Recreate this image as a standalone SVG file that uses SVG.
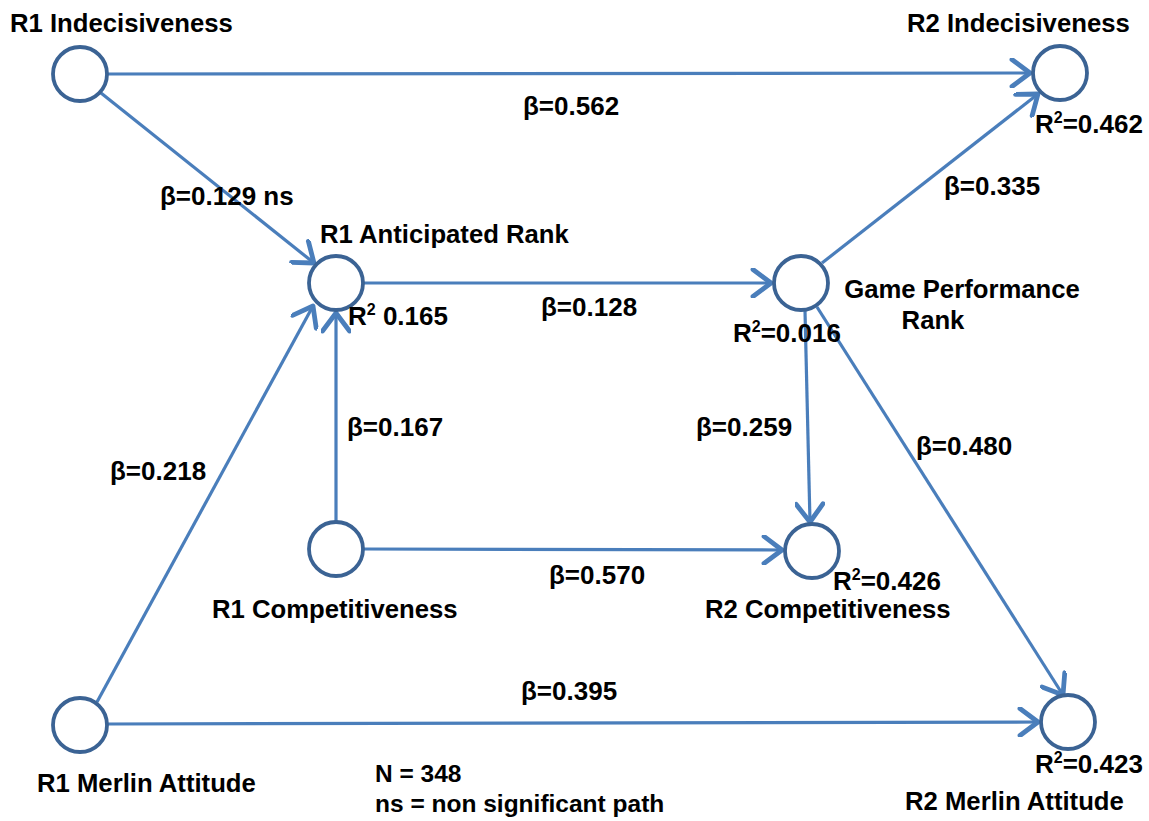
<svg xmlns="http://www.w3.org/2000/svg" width="1149" height="821" viewBox="0 0 1149 821">
<style>
.n{fill:#fff;stroke:#3B6394;stroke-width:3.8}
.c{stroke:#4A7EBB;stroke-width:3.2;fill:none;marker-end:url(#a)}
text{font-family:"Liberation Sans",Arial,sans-serif;font-weight:bold;font-size:26px;fill:#000}
.t{font-size:25.7px}
.f{font-size:24.5px}
.s{font-size:16px}
</style>
<defs>
<marker id="a" markerUnits="userSpaceOnUse" markerWidth="30" markerHeight="30" refX="16" refY="10" orient="auto" viewBox="0 0 20 20">
<path d="M4,1 L16,10 L4,19" fill="none" stroke="#4A7EBB" stroke-width="3.2" stroke-linecap="round" stroke-linejoin="round"/>
</marker>
</defs>
<rect width="1149" height="821" fill="#fff"/>
<g id="connectors">
<line class="c" x1="108" y1="74" x2="1030" y2="73"/>
<line class="c" x1="101" y1="93" x2="314" y2="263"/>
<line class="c" x1="822" y1="263" x2="1038" y2="94"/>
<line class="c" x1="364" y1="283" x2="771" y2="283"/>
<line class="c" x1="336" y1="521" x2="336" y2="313"/>
<line class="c" x1="97" y1="702" x2="313" y2="306"/>
<line class="c" x1="364" y1="549" x2="782" y2="550"/>
<line class="c" x1="805" y1="311" x2="810" y2="522"/>
<line class="c" x1="817" y1="307" x2="1063" y2="695"/>
<line class="c" x1="108" y1="724" x2="1038" y2="722"/>
</g>
<g id="labels">
<text x="523" y="115">β=0.562</text>
<text x="160" y="205">β=0.129 ns</text>
<text x="944" y="195">β=0.335</text>
<text x="541" y="316">β=0.128</text>
<text x="347" y="436">β=0.167</text>
<text x="696" y="436">β=0.259</text>
<text x="916" y="455">β=0.480</text>
<text x="110" y="480">β=0.218</text>
<text x="549" y="584">β=0.570</text>
<text x="521" y="700">β=0.395</text>
<text class="f" x="375" y="782">N = 348</text>
<text class="f" x="375" y="812">ns = non significant path</text>
</g>
<g id="r1-indecisiveness">
<circle class="n" cx="80" cy="74" r="27"/>
<text class="t" x="10" y="32">R1 Indecisiveness</text>
</g>
<g id="r2-indecisiveness">
<circle class="n" cx="1060" cy="73" r="27"/>
<text class="t" x="907" y="32">R2 Indecisiveness</text>
<text x="1035" y="133">R<tspan class="s" dy="-10">2</tspan><tspan dy="10">=0.462</tspan></text>
</g>
<g id="r1-anticipated-rank">
<circle class="n" cx="336" cy="283" r="27"/>
<text class="t" x="320" y="243">R1 Anticipated Rank</text>
<text x="348" y="325">R<tspan class="s" dy="-10">2</tspan><tspan dy="10"> 0.165</tspan></text>
</g>
<g id="game-performance-rank">
<circle class="n" cx="801" cy="283" r="27"/>
<text class="t" x="962" y="298" text-anchor="middle">Game Performance</text>
<text class="t" x="933" y="329" text-anchor="middle">Rank</text>
<text x="733" y="342">R<tspan class="s" dy="-10">2</tspan><tspan dy="10">=0.016</tspan></text>
</g>
<g id="r1-competitiveness">
<circle class="n" cx="336" cy="549" r="27"/>
<text class="t" x="212" y="618">R1 Competitiveness</text>
</g>
<g id="r2-competitiveness">
<circle class="n" cx="812" cy="551" r="27"/>
<text x="833" y="590">R<tspan class="s" dy="-10">2</tspan><tspan dy="10">=0.426</tspan></text>
<text class="t" x="705" y="618">R2 Competitiveness</text>
</g>
<g id="r1-merlin-attitude">
<circle class="n" cx="80" cy="725" r="27"/>
<text class="t" x="37" y="792">R1 Merlin Attitude</text>
</g>
<g id="r2-merlin-attitude">
<circle class="n" cx="1068" cy="722" r="27"/>
<text x="1035" y="773">R<tspan class="s" dy="-10">2</tspan><tspan dy="10">=0.423</tspan></text>
<text class="t" x="905" y="810">R2 Merlin Attitude</text>
</g>
</svg>
